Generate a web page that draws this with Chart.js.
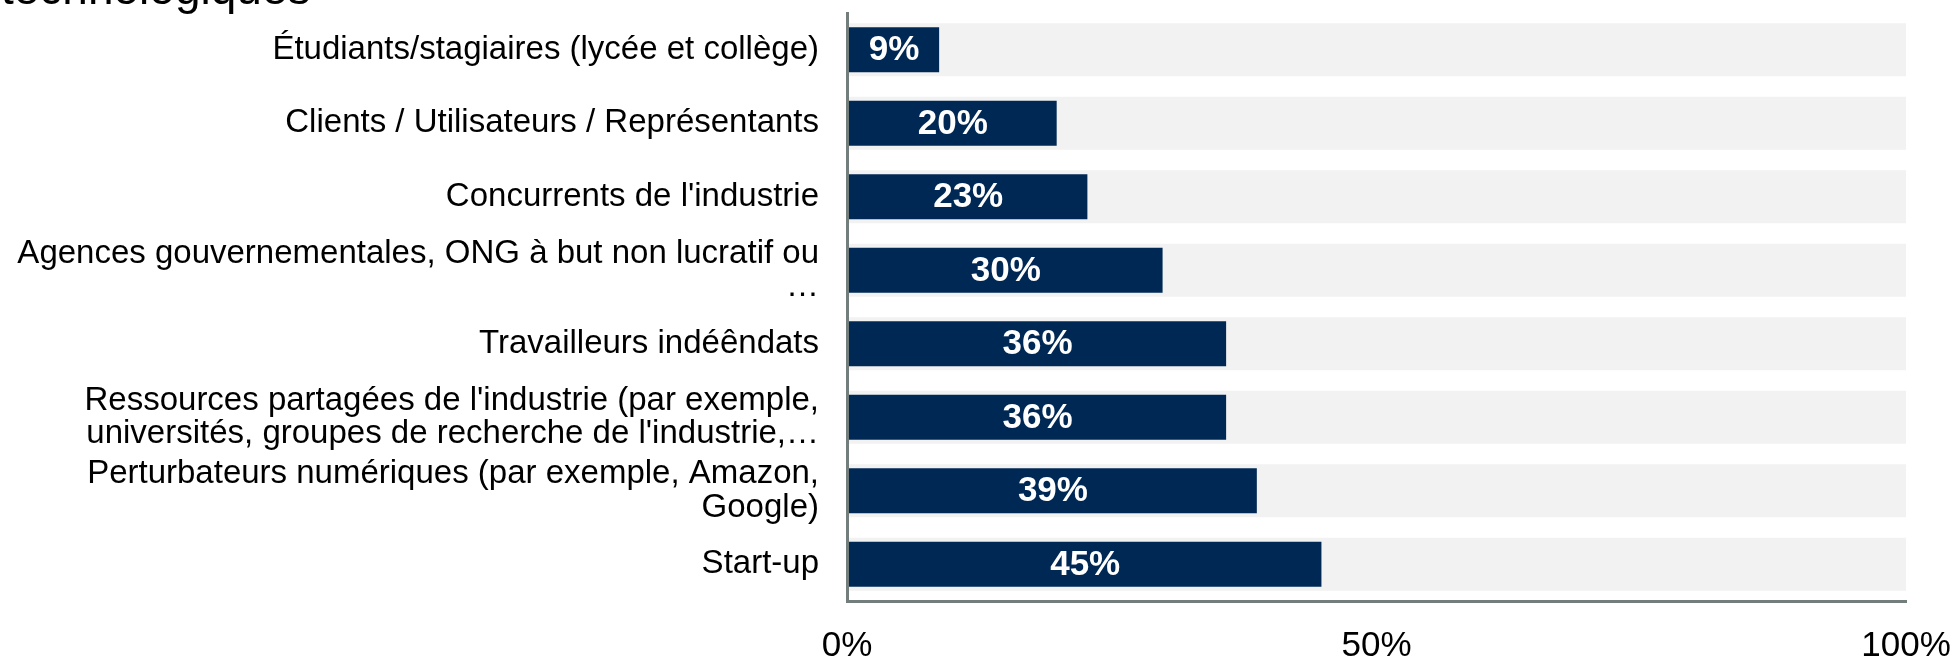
<!DOCTYPE html>
<html lang="fr">
<head>
<meta charset="utf-8">
<title>Sources</title>
<script src="https://cdn.jsdelivr.net/npm/chart.js@4.4.1/dist/chart.umd.min.js"></script>
<style>
  html, body { margin: 0; padding: 0; background: #fff; overflow: hidden; }
  #wrap { position: relative; width: 1954px; height: 656px; }
  #title {
    position: absolute; left: 1px; top: -35px; margin: 0;
    font: normal 46px/46px "Liberation Sans", Arial, sans-serif; color: #000;
    white-space: nowrap;
  }
</style>
</head>
<body>
<div id="wrap">
  <canvas id="chart"></canvas>
  <h1 id="title">technologiques</h1>
</div>
<script>
const categories = [
  "Étudiants/stagiaires (lycée et collège)",
  "Clients / Utilisateurs / Représentants",
  "Concurrents de l'industrie",
  ["Agences gouvernementales, ONG à but non lucratif ou", "…"],
  "Travailleurs indéêndats",
  ["Ressources partagées de l'industrie (par exemple,", "universités, groupes de recherche de l'industrie,…"],
  ["Perturbateurs numériques (par exemple, Amazon,", "Google)"],
  "Start-up",
];
const shares = [8.7, 19.8, 22.7, 29.8, 35.8, 35.8, 38.7, 44.8];
const fullScale = [100, 100, 100, 100, 100, 100, 100, 100];
const xTicks = [0, 50, 100];

const FONT = '"Liberation Sans", Arial, sans-serif';
const NAVY = "#002855";
const AXIS = "#737d7b";

// white % labels centred inside the navy bars
const barLabels = {
  id: "barLabels",
  afterDatasetsDraw(chart) {
    const { ctx } = chart;
    const meta = chart.getDatasetMeta(0);
    ctx.save();
    ctx.font = `bold 35px ${FONT}`;
    ctx.fillStyle = "#fff";
    ctx.textAlign = "center";
    ctx.textBaseline = "middle";
    meta.data.forEach((bar, i) => {
      ctx.fillText(`${Math.round(shares[i])}%`, (bar.x + bar.base) / 2 + 1, bar.y + 1);
    });
    ctx.restore();
  },
};

new Chart(document.getElementById("chart"), {
  type: "bar",
  data: {
    labels: categories,
    datasets: [
      {
        data: shares,
        backgroundColor: NAVY,
        barPercentage: 0.612,
        categoryPercentage: 1,
        grouped: false,
        order: 0,
      },
      {
        data: fullScale,
        backgroundColor: "#f2f2f2",
        barPercentage: 0.72,
        categoryPercentage: 1,
        grouped: false,
        order: 1,
      },
    ],
  },
  options: {
    indexAxis: "y",
    responsive: true,
    maintainAspectRatio: false,
    animation: false,
    layout: { padding: { top: 13, right: 48, left: 0, bottom: 0 } },
    plugins: { legend: { display: false }, tooltip: { enabled: false } },
    scales: {
      x: {
        min: 0,
        max: 100,
        afterBuildTicks: (s) => { s.ticks = xTicks.map((v) => ({ value: v })); },
        afterFit: (s) => {
          s.height = 55;
          s.paddingLeft = 0;
          s.paddingRight = 0;
        },
        grid: { display: false, drawTicks: false },
        border: { color: AXIS, width: 3, z: 1 },
        ticks: {
          callback: (v) => `${v}%`,
          font: { family: FONT, size: 35 },
          color: "#000",
          padding: 24,
          maxRotation: 0,
        },
      },
      y: {
        afterFit: (s) => {
          s.width = 847;
          s.paddingTop = 0;
          s.paddingBottom = 0;
        },
        grid: { display: false, drawTicks: false },
        border: { color: AXIS, width: 3, z: 1 },
        ticks: {
          font: { family: FONT, size: 33, lineHeight: 1.02 },
          color: "#000",
          padding: 28,
        },
      },
    },
  },
  plugins: [barLabels],
});
</script>
</body>
</html>
